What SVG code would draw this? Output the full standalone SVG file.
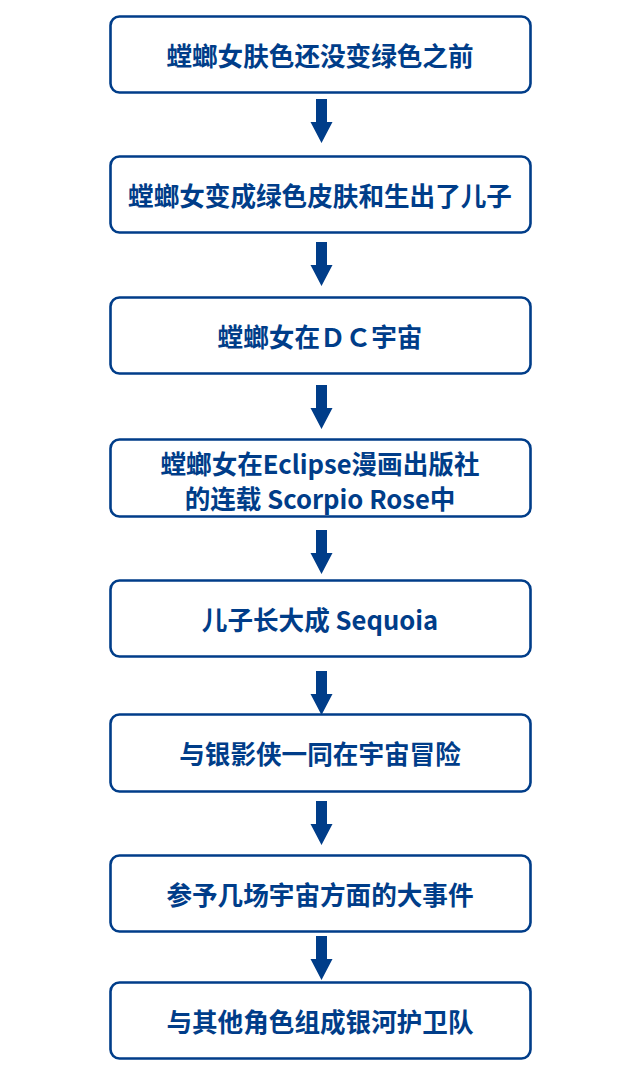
<svg xmlns="http://www.w3.org/2000/svg" width="640" height="1080" viewBox="0 0 640 1080">
<defs>
<style>
.box{fill:#ffffff;stroke:#003d89;stroke-width:2.6}
.t{font-family:"Noto Sans CJK SC","Noto Sans",sans-serif;font-weight:bold;font-size:25.6px;fill:#003d89;text-anchor:middle;dominant-baseline:central}
.arr{fill:#003d89}
</style>
<path id="a" d="M-5.5,0 H5.5 V23 H11 L0,44 L-11,23 H-5.5 Z"/>
</defs>
<rect width="640" height="1080" fill="#ffffff"/>
<g id="n1"><rect class="box" x="110.5" y="16.5" width="420" height="76" rx="9"/><text class="t" x="320" y="54">螳螂女肤色还没变绿色之前</text></g>
<g id="n2"><rect class="box" x="110.5" y="156.5" width="420" height="76" rx="9"/><text class="t" x="320" y="194">螳螂女变成绿色皮肤和生出了儿子</text></g>
<g id="n3"><rect class="box" x="110.5" y="297.5" width="420" height="76" rx="9"/><text class="t" x="320" y="335">螳螂女在ＤＣ宇宙</text></g>
<g id="n4"><rect class="box" x="110.5" y="439.5" width="420" height="77" rx="9"/><text class="t" x="320" y="462">螳螂女在Eclipse漫画出版社</text><text class="t" x="320" y="497">的连载 Scorpio Rose中</text></g>
<g id="n5"><rect class="box" x="110.5" y="580.5" width="420" height="76" rx="9"/><text class="t" x="320" y="618">儿子长大成 Sequoia</text></g>
<g id="n6"><rect class="box" x="110.5" y="714.5" width="420" height="77" rx="9"/><text class="t" x="320" y="752.5">与银影侠一同在宇宙冒险</text></g>
<g id="n7"><rect class="box" x="110.5" y="855.5" width="420" height="76" rx="9"/><text class="t" x="320" y="893">参予几场宇宙方面的大事件</text></g>
<g id="n8"><rect class="box" x="110.5" y="982.5" width="420" height="76" rx="9"/><text class="t" x="320" y="1020">与其他角色组成银河护卫队</text></g>
<g id="connectors" class="arr">
<use href="#a" x="321.5" y="99"/>
<use href="#a" x="321.5" y="242"/>
<use href="#a" x="321.5" y="385"/>
<use href="#a" x="321.5" y="530"/>
<use href="#a" x="321.5" y="671"/>
<use href="#a" x="321.5" y="801"/>
<use href="#a" x="321.5" y="936"/>
</g>
</svg>
